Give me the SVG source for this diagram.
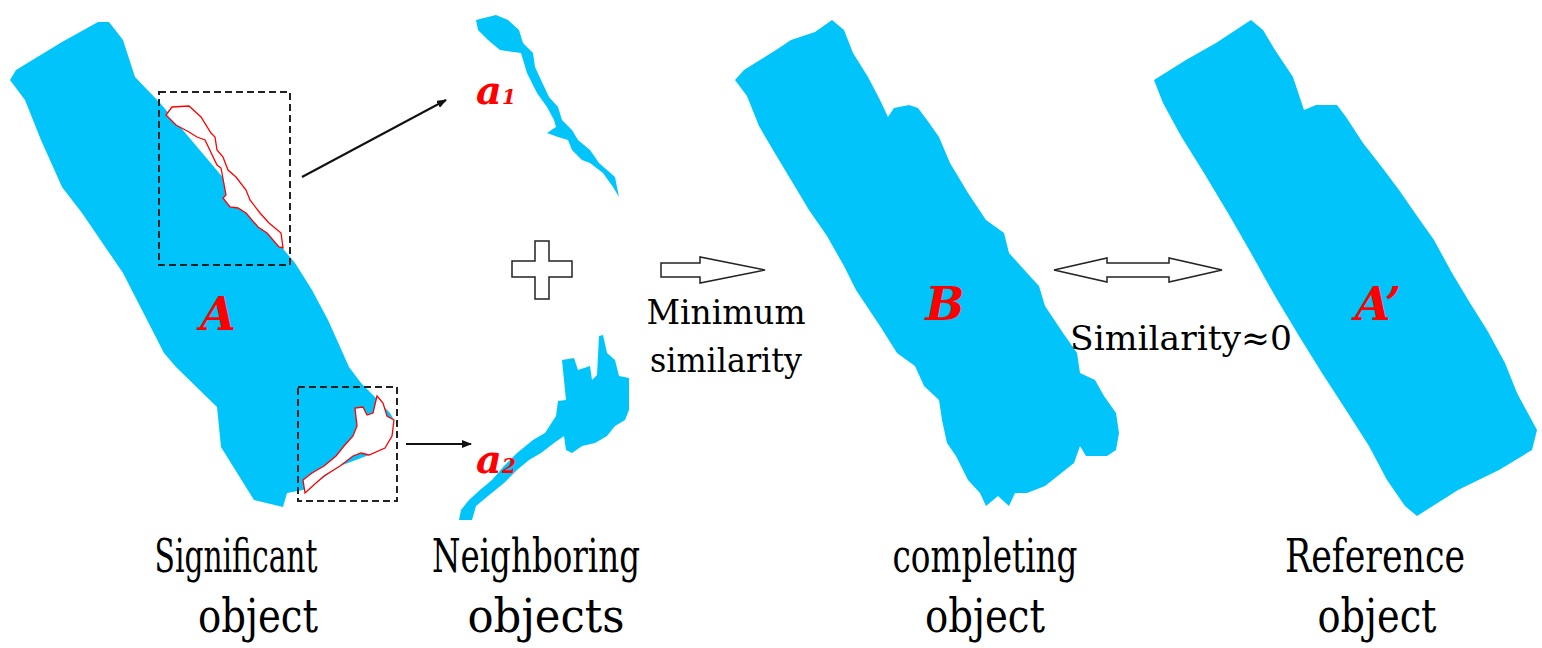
<svg xmlns="http://www.w3.org/2000/svg" width="1542" height="648" viewBox="0 0 1542 648">
<style>
.blob{fill:#00C4FA}
.cut{fill:#fff;stroke:#F00;stroke-width:1.3}
.box{fill:none;stroke:#222;stroke-width:2;stroke-dasharray:7,4}
text{font-family:"DejaVu Serif",serif}
.lbl{font-size:46px;fill:#000;text-anchor:middle}
.mid{font-size:34px;fill:#000;text-anchor:middle}
.red{font-style:italic;font-weight:bold;fill:#F00;text-anchor:middle}
.open{fill:#fff;stroke:#222;stroke-width:1.5}
.ln{stroke:#111;stroke-width:2;fill:none}
</style>
<defs><marker id="ah" markerWidth="10" markerHeight="8" refX="9" refY="4" orient="auto" markerUnits="userSpaceOnUse"><path d="M0,0 L10,4 L0,8 Z" fill="#111"/></marker></defs>
<g id="objA">
<polygon class="blob" points="10,80 16,70 62,42 98,22 109,22 123,40 135,77 160,103 295,263 312,290 328,320 349,367 361,383 375,397 390,413 394,420 392,436 385,448 369,455 340,466 316,483 303,490 287,493 283,507 254,500 221,447 217,407 176,367 164,353 123,273 82,213 62,187 41,140 25,100"/>
<polygon class="cut" points="166,115 172,107 189,106 201,117 211,133 215,137 217,150 223,157 228,170 236,177 246,190 250,200 260,213 269,223 281,233 283,248 279,247 267,233 258,227 246,213 238,208 230,207 223,198 226,195 221,168 217,165 205,140 197,137 189,132 176,125"/>
<polygon class="cut" points="305,493 303,480 312,473 324,466 336,456 344,446 353,436 357,426 355,408 363,407 367,415 373,413 377,396 383,403 387,416 394,420 392,436 385,448 369,455 361,453 353,456 340,466 324,476 316,483"/>
<rect class="box" x="159" y="92" width="131" height="173"/>
<rect class="box" x="298" y="387" width="99" height="114"/>
<text class="red" x="218" y="330" font-size="46">A</text>
</g>
<g id="objA1">
<polygon class="blob" points="476,20 496,15 508,20 519,30 523,43 533,53 535,67 541,80 549,97 558,107 562,120 572,130 578,140 590,150 599,163 615,177 619,197 613,187 603,173 590,163 582,160 572,150 568,140 558,137 547,133 556,127 554,120 547,107 537,93 527,73 521,53 500,50 488,40 478,30"/>
<text class="red" x="496" y="104" font-size="40">a<tspan font-size="20">1</tspan></text>
</g>
<g id="objA2">
<polygon class="blob" points="459,520 461,510 469,500 480,490 492,480 504,466 517,453 533,440 545,433 556,416 558,401 566,400 562,360 574,358 578,370 590,366 592,380 597,375 599,336 603,335 607,353 615,360 619,376 629,378 629,410 625,420 615,426 607,436 595,443 582,446 572,453 566,450 564,436 554,443 541,453 529,460 517,470 504,483 488,496 476,506 472,520"/>
<text class="red" x="496" y="473" font-size="40">a<tspan font-size="20">2</tspan></text>
</g>
<g id="plus">
<polygon class="open" points="535,241 549,241 549,261 572,261 572,277 549,277 549,299 535,299 535,277 512,277 512,261 535,261"/>
</g>
<g id="objB">
<polygon class="blob" points="735,80 744,70 776,50 791,40 815,32 832,20 844,30 853,53 868,77 880,100 888,117 894,108 909,105 918,108 927,120 939,137 950,163 968,193 986,220 1004,233 1009,253 1027,273 1039,286 1045,306 1063,333 1077,353 1080,373 1095,380 1104,396 1116,413 1119,433 1116,450 1107,456 1086,456 1080,446 1074,463 1045,486 1027,493 1015,493 1009,506 998,496 986,506 980,493 968,480 956,456 947,443 942,420 939,400 924,386 915,366 897,353 880,326 856,290 844,266 827,236 809,210 791,180 773,150 759,126 747,96"/>
<text class="red" x="945" y="320" font-size="46">B</text>
</g>
<g id="objAp">
<polygon class="blob" points="1154,80 1186,60 1216,43 1251,20 1263,30 1275,50 1293,77 1304,110 1316,105 1337,105 1346,117 1363,143 1381,166 1399,190 1417,216 1434,240 1452,273 1470,303 1487,330 1505,363 1517,393 1537,430 1532,450 1499,470 1458,490 1417,516 1405,506 1387,480 1369,446 1346,410 1322,373 1299,336 1275,296 1251,253 1228,213 1204,173 1181,136 1163,103"/>
<text class="red" x="1378" y="320" font-size="46">A’</text>
</g>
<g id="connectors">
<line class="ln" x1="302" y1="177" x2="446" y2="100" marker-end="url(#ah)"/>
<line class="ln" x1="406" y1="444" x2="471" y2="444" marker-end="url(#ah)"/>
<polygon class="open" points="661,263 700,263 700,257 765,270 700,283 700,277 661,277"/>
<polygon class="open" points="1054,270 1107,258 1107,263 1169,263 1169,258 1222,270 1169,282 1169,277 1107,277 1107,282"/>
</g>
<g id="labels">
<text class="mid" x="726" y="324" textLength="159" lengthAdjust="spacingAndGlyphs">Minimum</text>
<text class="mid" x="726" y="372" textLength="152" lengthAdjust="spacingAndGlyphs">similarity</text>
<text class="mid" x="1181" y="350" textLength="222" lengthAdjust="spacingAndGlyphs">Similarity≈0</text>
<text class="lbl" x="236" y="572" textLength="163" lengthAdjust="spacingAndGlyphs">Significant</text>
<text class="lbl" x="258" y="632" textLength="120" lengthAdjust="spacingAndGlyphs">object</text>
<text class="lbl" x="536" y="572" textLength="208" lengthAdjust="spacingAndGlyphs">Neighboring</text>
<text class="lbl" x="546" y="632" textLength="157" lengthAdjust="spacingAndGlyphs">objects</text>
<text class="lbl" x="985" y="572" textLength="185" lengthAdjust="spacingAndGlyphs">completing</text>
<text class="lbl" x="985" y="632" textLength="120" lengthAdjust="spacingAndGlyphs">object</text>
<text class="lbl" x="1375" y="572" textLength="180" lengthAdjust="spacingAndGlyphs">Reference</text>
<text class="lbl" x="1377" y="632" textLength="119" lengthAdjust="spacingAndGlyphs">object</text>
</g>
</svg>
